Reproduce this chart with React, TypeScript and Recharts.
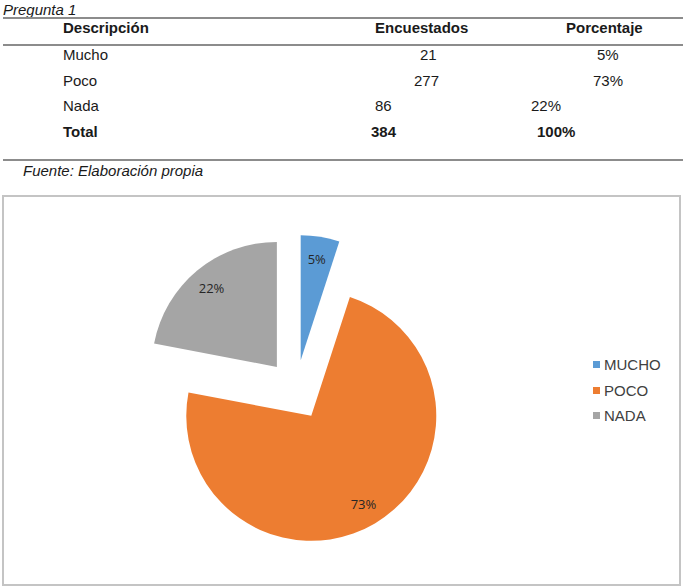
import { PieChart, Pie, Cell, Sector, Legend } from 'recharts';

// Pregunta 1 – respuestas de la encuesta
const categories = ['Mucho', 'Poco', 'Nada'];
const encuestados = [21, 277, 86];
const porcentaje = [5, 73, 22];
const totalEncuestados = 384;
const totalPorcentaje = 100;

const COLORS = ['#5B9BD5', '#ED7D31', '#A5A5A5'];
const RAD = Math.PI / 180;
const EXPLODE = 30;
const RADIUS = 125;

const pieData = categories.map((c, i) => ({ name: c.toUpperCase(), value: porcentaje[i] }));
const legendOrder = pieData.map((d) => d.name);

const FONT = '"Liberation Sans", Arial, sans-serif';

// columnas de la tabla (x izquierda de cada celda por fila)
const rowsLayout = [
  { y: 47, enc: 420, pct: 597 },
  { y: 73, enc: 414, pct: 593 },
  { y: 98, enc: 375, pct: 531 },
];

// sector desplazado hacia afuera según su ángulo medio
// eslint-disable-next-line @typescript-eslint/no-explicit-any
const explodedSector = (props: any) => {
  const { cx, cy, midAngle } = props;
  const dx = EXPLODE * Math.cos(-midAngle * RAD);
  const dy = EXPLODE * Math.sin(-midAngle * RAD);
  return <Sector {...props} cx={cx + dx} cy={cy + dy} />;
};

// eslint-disable-next-line @typescript-eslint/no-explicit-any
const renderLabel = (p: any) => {
  const d = EXPLODE + p.outerRadius * 0.82;
  const x = p.cx + d * Math.cos(-p.midAngle * RAD);
  const y = p.cy + d * Math.sin(-p.midAngle * RAD);
  return (
    <text
      x={x}
      y={y}
      textAnchor="middle"
      dominantBaseline="central"
      fill="#262626"
      fontSize={13}
      fontFamily='"Open Sans", "Noto Sans", sans-serif'
    >
      {`${p.value}%`}
    </text>
  );
};

// eslint-disable-next-line @typescript-eslint/no-explicit-any
const renderLegend = (props: any) => {
  const items = [...(props.payload || [])].sort(
    (a: any, b: any) => legendOrder.indexOf(a.value) - legendOrder.indexOf(b.value),
  );
  return (
    <div>
      {items.map((entry: any) => (
        <div
          key={entry.value}
          style={{ display: 'flex', alignItems: 'center', height: 25.5, fontFamily: FONT, fontSize: 15, color: '#404040' }}
        >
          <span style={{ width: 7, height: 7, background: entry.color, marginRight: 4, display: 'inline-block' }} />
          {entry.value}
        </div>
      ))}
    </div>
  );
};

const line = (top: number) => (
  <div style={{ position: 'absolute', left: 3, top, width: 680, height: 1.5, background: '#8c8c8c' }} />
);

const cell = (text: string | number, left: number, top: number, bold = false) => (
  <div style={{ position: 'absolute', left, top, fontWeight: bold ? 700 : 400, whiteSpace: 'nowrap' }}>{text}</div>
);

export default function App() {
  return (
    <div
      style={{
        position: 'absolute',
        left: 0,
        top: 0,
        width: 686,
        height: 588,
        background: '#fff',
        fontFamily: FONT,
        fontSize: 15,
        color: '#1a1a1a',
        lineHeight: '15px',
      }}
    >
      <div style={{ position: 'absolute', left: 3, top: 2, fontStyle: 'italic' }}>Pregunta 1</div>
      {line(17)}
      {cell('Descripción', 63, 20, true)}
      {cell('Encuestados', 375, 20, true)}
      {cell('Porcentaje', 566, 20, true)}
      {line(44)}
      {categories.map((c, i) => (
        <div key={c}>
          {cell(c, 63, rowsLayout[i].y)}
          {cell(encuestados[i], rowsLayout[i].enc, rowsLayout[i].y)}
          {cell(`${porcentaje[i]}%`, rowsLayout[i].pct, rowsLayout[i].y)}
        </div>
      ))}
      {cell('Total', 63, 124, true)}
      {cell(totalEncuestados, 371, 124, true)}
      {cell(`${totalPorcentaje}%`, 537, 124, true)}
      {line(159)}
      <div style={{ position: 'absolute', left: 23, top: 163, fontStyle: 'italic' }}>Fuente: Elaboración propia</div>

      <div
        style={{
          position: 'absolute',
          left: 2,
          top: 195,
          width: 679,
          height: 391,
          boxSizing: 'border-box',
          border: '2px solid #c4c4c4',
        }}
      />
      <div style={{ position: 'absolute', left: 0, top: 195 }}>
        <PieChart width={686} height={390}>
          <Pie
            data={pieData}
            dataKey="value"
            nameKey="name"
            cx={291}
            cy={190}
            outerRadius={RADIUS}
            startAngle={90}
            endAngle={-270}
            stroke="none"
            shape={explodedSector}
            label={renderLabel}
            labelLine={false}
            isAnimationActive={false}
          >
            {pieData.map((_, i) => (
              <Cell key={i} fill={COLORS[i]} />
            ))}
          </Pie>
          <Legend
            content={renderLegend}
            wrapperStyle={{ position: 'absolute', left: 593, top: 157, width: 90 }}
          />
        </PieChart>
      </div>
    </div>
  );
}
